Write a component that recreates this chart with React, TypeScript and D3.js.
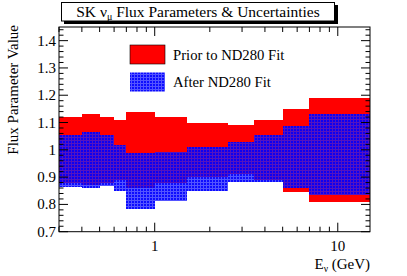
import { useEffect, useRef } from "react";
import { scaleLog, scaleLinear, select, range } from "d3";

// bin edges in GeV (first and last clipped to the axis range)
const edges = [0.3, 0.4, 0.5, 0.6, 0.7, 1.0, 1.5, 2.5, 3.5, 5.0, 7.0, 15];
const priorHigh = [1.12, 1.13, 1.12, 1.11, 1.14, 1.12, 1.1, 1.09, 1.11, 1.15, 1.19];
const priorLow = [0.88, 0.87, 0.88, 0.89, 0.86, 0.88, 0.9, 0.91, 0.89, 0.847, 0.81];
const afterHigh = [1.053, 1.065, 1.054, 1.018, 0.988, 0.992, 1.009, 1.028, 1.053, 1.087, 1.131];
const afterLow = [0.863, 0.859, 0.866, 0.848, 0.782, 0.811, 0.848, 0.882, 0.881, 0.861, 0.834];
const yTicks = [0.7, 0.8, 0.9, 1, 1.1, 1.2, 1.3, 1.4];
const xTickLabels = [1, 10];
const legendLabels = ["Prior to ND280 Fit", "After ND280 Fit"];

const W = 407;
const H = 276;
const font = "'Liberation Serif', 'Times New Roman', serif";

export default function App() {
  const ref = useRef<SVGSVGElement>(null);

  useEffect(() => {
    if (!ref.current) return;
    const svg = select(ref.current);
    svg.selectAll("*").remove();

    const left = 59, right = 370, top = 27, bottom = 231.7;
    const x = scaleLog().domain([0.3, 15]).range([left, right]);
    const y = scaleLinear().domain([0.7, 1.45]).range([bottom, top]);

    const defs = svg.append("defs");
    const pat = defs
      .append("pattern")
      .attr("id", "blueHatch")
      .attr("patternUnits", "userSpaceOnUse")
      .attr("width", 3)
      .attr("height", 3);
    pat.append("rect").attr("width", 2).attr("height", 2).attr("fill", "#0000ff").attr("opacity", 0.95);
    pat.append("rect").attr("x", 2).attr("width", 1).attr("height", 3).attr("fill", "#1a1aff").attr("opacity", 0.75);
    pat.append("rect").attr("y", 2).attr("width", 2).attr("height", 1).attr("fill", "#1a1aff").attr("opacity", 0.75);

    const bins = range(edges.length - 1);

    // prior (red)
    svg
      .append("g")
      .selectAll("rect")
      .data(bins)
      .join("rect")
      .attr("x", (i) => x(edges[i]))
      .attr("width", (i) => x(edges[i + 1]) - x(edges[i]))
      .attr("y", (i) => y(priorHigh[i]))
      .attr("height", (i) => y(priorLow[i]) - y(priorHigh[i]))
      .attr("fill", "#ff0000")
      .attr("shape-rendering", "crispEdges");

    // after fit (blue pattern)
    svg
      .append("g")
      .selectAll("rect")
      .data(bins)
      .join("rect")
      .attr("x", (i) => x(edges[i]))
      .attr("width", (i) => x(edges[i + 1]) - x(edges[i]))
      .attr("y", (i) => y(afterHigh[i]))
      .attr("height", (i) => y(afterLow[i]) - y(afterHigh[i]))
      .attr("fill", "url(#blueHatch)")
      .attr("shape-rendering", "crispEdges");

    // frame
    svg
      .append("rect")
      .attr("x", left)
      .attr("y", top)
      .attr("width", right - left)
      .attr("height", bottom - top)
      .attr("fill", "none")
      .attr("stroke", "#000")
      .attr("stroke-width", 1);

    const axG = svg.append("g").attr("stroke", "#000").attr("stroke-width", 1);

    // y ticks (inward, both sides)
    const yMinor = range(38).map((k) => 0.7 + k * 0.02).filter((v) => v <= 1.451);
    yMinor.forEach((v) => {
      const major = Math.abs(Math.round(v * 10) - v * 10) < 1e-6;
      const len = major ? 9 : 4.5;
      axG.append("line").attr("x1", left).attr("x2", left + len).attr("y1", y(v)).attr("y2", y(v));
      axG.append("line").attr("x1", right).attr("x2", right - len).attr("y1", y(v)).attr("y2", y(v));
    });

    // x ticks (log)
    const xT = [0.3, 0.4, 0.5, 0.6, 0.7, 0.8, 0.9, 1, 2, 3, 4, 5, 6, 7, 8, 9, 10];
    xT.forEach((v) => {
      const major = v === 1 || v === 10;
      const len = major ? 9 : 5;
      axG.append("line").attr("x1", x(v)).attr("x2", x(v)).attr("y1", bottom).attr("y2", bottom - len);
      axG.append("line").attr("x1", x(v)).attr("x2", x(v)).attr("y1", top).attr("y2", top + len);
    });

    // y tick labels
    svg
      .append("g")
      .selectAll("text")
      .data(yTicks)
      .join("text")
      .attr("x", 56)
      .attr("y", (d) => y(d) + 5)
      .attr("text-anchor", "end")
      .attr("font-family", font)
      .attr("font-size", 15)
      .text((d) => (d === 1 ? "1" : d.toFixed(1)));

    // x tick labels
    svg
      .append("g")
      .selectAll("text")
      .data(xTickLabels)
      .join("text")
      .attr("x", (d) => x(d))
      .attr("y", 251)
      .attr("text-anchor", "middle")
      .attr("font-family", font)
      .attr("font-size", 15)
      .text((d) => String(d));

    // x title
    const xt = svg
      .append("text")
      .attr("x", right)
      .attr("y", 269)
      .attr("text-anchor", "end")
      .attr("font-family", font)
      .attr("font-size", 15);
    xt.append("tspan").text("E");
    xt.append("tspan").attr("font-size", 9.5).attr("dy", 2.5).text("ν");
    xt.append("tspan").attr("dy", -2.5).text(" (GeV)");

    // y title
    svg
      .append("text")
      .attr("transform", `translate(17.5,25) rotate(-90)`)
      .attr("text-anchor", "end")
      .attr("font-family", font)
      .attr("font-size", 15)
      .text("Flux Parameter Value");

    // legend
    const lg = svg.append("g");
    const legFills = ["#ff0000", "url(#blueHatch)"];
    legendLabels.forEach((lab, i) => {
      const yy = 45 + i * 27.5;
      lg.append("rect")
        .attr("x", 130)
        .attr("y", yy)
        .attr("width", 35)
        .attr("height", 19)
        .attr("fill", legFills[i])
        .attr("stroke", i === 0 ? "#000" : "none")
        .attr("stroke-width", 0.6);
      lg.append("text")
        .attr("x", 173)
        .attr("y", yy + 14.5)
        .attr("font-family", font)
        .attr("font-size", 14.7)
        .text(lab);
    });

    // title box with shadow
    svg.append("rect").attr("x", 64).attr("y", 5).attr("width", 274).attr("height", 19).attr("fill", "#000");
    svg
      .append("rect")
      .attr("x", 61.5)
      .attr("y", 2.5)
      .attr("width", 273)
      .attr("height", 18.5)
      .attr("fill", "#fff")
      .attr("stroke", "#000")
      .attr("stroke-width", 1);
    const tt = svg
      .append("text")
      .attr("x", 198)
      .attr("y", 17)
      .attr("text-anchor", "middle")
      .attr("font-family", font)
      .attr("font-size", 15.5);
    tt.append("tspan").text("SK ν");
    tt.append("tspan").attr("font-size", 10).attr("dy", 3).text("μ");
    tt.append("tspan").attr("dy", -3).text(" Flux Parameters & Uncertainties");
  }, []);

  return (
    <svg
      ref={ref}
      width={W}
      height={H}
      style={{ position: "absolute", left: 0, top: 0, background: "#fff" }}
    />
  );
}
